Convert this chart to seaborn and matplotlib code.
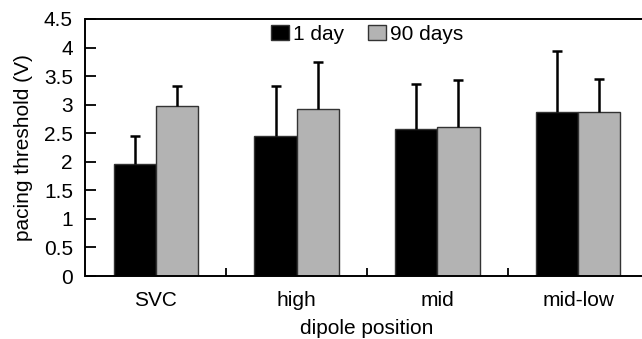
import matplotlib
matplotlib.use("Agg")
import matplotlib.pyplot as plt
import seaborn as sns
import pandas as pd
import numpy as np
from matplotlib.ticker import FixedLocator

categories = ["SVC", "high", "mid", "mid-low"]
series_names = ["1 day", "90 days"]
mean_1day = [1.96, 2.46, 2.57, 2.88]
mean_90days = [2.98, 2.93, 2.61, 2.88]
sd_1day = [0.50, 0.86, 0.79, 1.06]
sd_90days = [0.34, 0.81, 0.83, 0.57]
ytick_values = [0, 0.5, 1, 1.5, 2, 2.5, 3, 3.5, 4, 4.5]
ytick_labels = ["0", "0.5", "1", "1.5", "2", "2.5", "3", "3.5", "4", "4.5"]

sns.set_theme(style="ticks")
plt.rcParams["font.family"] = ["Liberation Sans", "DejaVu Sans"]
plt.rcParams["text.color"] = "black"
plt.rcParams["axes.labelcolor"] = "black"

df = pd.DataFrame({
    "position": categories * 2,
    "series": [series_names[0]] * 4 + [series_names[1]] * 4,
    "value": mean_1day + mean_90days,
})

fig = plt.figure(figsize=(6.42, 3.39), dpi=100)
ax = fig.add_axes([85.5 / 642, 63 / 339, 563 / 642, 257 / 339])

sns.barplot(data=df, x="position", y="value", hue="series", order=categories,
            hue_order=series_names, palette=["#000000", "#b3b3b3"], width=0.6,
            errorbar=None, edgecolor="#333333", linewidth=1.0, ax=ax)

# upper-only error bars at bar centers
errs = {series_names[0]: sd_1day, series_names[1]: sd_90days}
means = {series_names[0]: mean_1day, series_names[1]: mean_90days}
for cont, name in zip(ax.containers, series_names):
    xs = [b.get_x() + b.get_width() / 2 for b in cont]
    eb = ax.errorbar(xs, means[name], yerr=[np.zeros(4), errs[name]], fmt="none",
                     ecolor="black", elinewidth=1.8, capsize=3.5, capthick=1.8)
    eb[1][0].set_visible(False)

ax.set_xlim(-0.5, 3.5)
ax.set_ylim(0, 4.5)
ax.set_yticks(ytick_values)
ax.set_yticklabels(ytick_labels)
ax.xaxis.set_minor_locator(FixedLocator([0.5, 1.5, 2.5]))
ax.tick_params(axis="x", which="major", length=0, labelsize=15, pad=11, colors="black")
ax.tick_params(axis="x", which="minor", direction="in", length=6, width=1.3, color="black")
ax.tick_params(axis="y", which="major", direction="in", length=8, width=1.3, labelsize=15, pad=9, colors="black")

for s in ax.spines.values():
    s.set_linewidth(1.4)
    s.set_color("black")

ax.set_xlabel("dipole position", fontsize=15, labelpad=6)
ax.set_ylabel("pacing threshold (V)", fontsize=15, labelpad=8)

handles, labels = ax.get_legend_handles_labels()
ax.legend(handles, labels, loc="upper center", bbox_to_anchor=(0.5, 1.022), ncol=2,
          frameon=False, fontsize=15, handlelength=0.85, handleheight=0.75,
          handletextpad=0.2, columnspacing=1.15, borderaxespad=0.15)

fig.savefig("out.png", dpi=100)
